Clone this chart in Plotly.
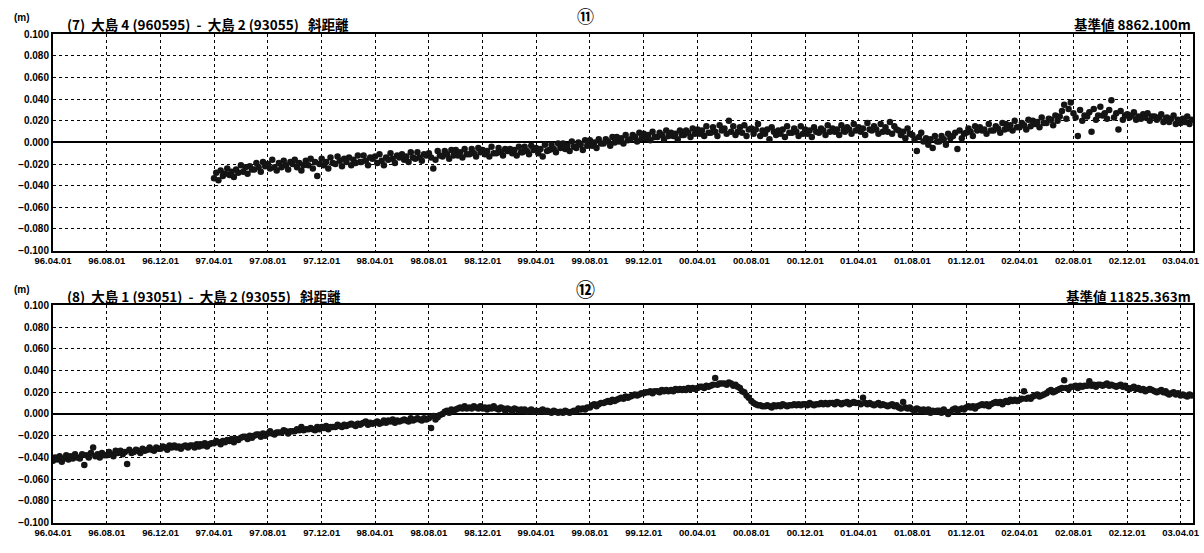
import pandas as pd
import plotly.graph_objects as go

# ---------------------------
# Data: slope distance change in mm
# six readings a month (1st, 6th, 11th, 16th, 21st, 26th), one row per month
# ---------------------------
oshima4_start = "1997-04-01"
oshima4_mm = [
    -33, -28, -35, -26, -31, -29,   # 97.04
    -24, -30, -27, -32, -25, -28,   # 97.05
    -21, -27, -23, -29, -22, -25,   # 97.06
    -25, -19, -23, -27, -18, -22,   # 97.07
    -20, -24, -16, -23, -26, -19,   # 97.08
    -23, -17, -21, -25, -18, -20,   # 97.09
    -16, -23, -19, -26, -21, -17,   # 97.10
    -21, -15, -24, -18, -31, -20,   # 97.11
    -15, -21, -18, -24, -14, -19,   # 97.12
    -20, -13, -17, -22, -15, -18,   # 98.01
    -14, -21, -16, -19, -12, -18,   # 98.02
    -18, -12, -17, -21, -14, -15,   # 98.03
    -13, -19, -11, -17, -21, -14,   # 98.04
    -16, -10, -15, -19, -12, -14,   # 98.05
    -11, -16, -13, -18, -9, -14,    # 98.06
    -15, -9, -14, -17, -11, -12,    # 98.07
    -10, -14, -24, -16, -8, -12,    # 98.08
    -13, -8, -11, -15, -7, -12,     # 98.09
    -7, -12, -9, -14, -6, -11,      # 98.10
    -11, -6, -10, -13, -5, -9,      # 98.11
    -7, -11, -8, -13, -4, -10,      # 98.12
    -10, -5, -9, -12, -6, -8,       # 99.01
    -6, -10, -7, -12, -4, -9,       # 99.02
    -9, -4, -8, -11, -3, -7,        # 99.03
    -5, -10, -6, -13, -2, -8,       # 99.04
    -7, -2, -6, -9, -1, -5,         # 99.05
    -1, -6, -3, -8, 1, -4,          # 99.06
    -5, 0, -2, -7, 2, -3,           # 99.07
    2, -3, 0, -5, 3, -1,            # 99.08
    -1, 3, 1, -3, 5, 0,             # 99.09
    5, 1, 4, -1, 7, 2,              # 99.10
    3, 7, 5, 1, 9, 4,               # 99.11
    8, 4, 7, 2, 10, 5,              # 99.12
    5, 9, 7, 3, 11, 6,              # 00.01
    9, 6, 8, 3, 11, 7,              # 00.02
    7, 11, 9, 5, 13, 8,             # 00.03
    12, 8, 11, 6, 15, 9,            # 00.04
    9, 14, 10, 6, 16, 11,           # 00.05
    13, 8, 20, 10, 15, 7,           # 00.06
    10, 14, 9, 16, 6, 12,           # 00.07
    13, 8, 12, 17, 6, 11,           # 00.08
    8, 12, 3, 14, 10, 7,            # 00.09
    11, 8, 12, 5, 15, 9,            # 00.10
    9, 13, 10, 6, 15, 8,            # 00.11
    12, 8, 11, 5, 14, 10,           # 00.12
    9, 13, 11, 7, 16, 10,           # 01.01
    13, 10, 12, 7, 16, 11,          # 01.02
    10, 14, 12, 8, 17, 11,          # 01.03
    14, 10, 13, 7, 18, 12,          # 01.04
    11, 15, 12, 8, 17, 10,          # 01.05
    14, 10, 19, 8, 15, 12,          # 01.06
    11, 7, 10, 4, 13, 8,            # 01.07
    7, 3, -8, 5, 9, 1,              # 01.08
    4, -2, 3, -5, 6, 1,             # 01.09
    1, 6, 3, -2, 8, 4,              # 01.10
    6, 9, -6, 11, 4, 8,             # 01.11
    9, 13, 10, 6, 15, 11,           # 01.12
    14, 11, 12, 8, 17, 11,          # 02.01
    11, 15, 13, 9, 18, 12,          # 02.02
    17, 13, 16, 11, 20, 14,         # 02.03
    14, 18, 16, 12, 21, 15,         # 02.04
    20, 17, 19, 14, 23, 18,         # 02.05
    18, 22, 21, 16, 25, 20,         # 02.06
    24, 29, 35, 22, 31, 37,         # 02.07
    27, 23, 6, 30, 20, 25,          # 02.08
    24, 28, 10, 31, 21, 25,         # 02.09
    33, 25, 27, 22, 30, 39,         # 02.10
    23, 27, 12, 29, 21, 25,         # 02.11
    26, 23, 25, 28, 21, 24,         # 02.12
    22, 26, 23, 27, 20, 24,         # 03.01
    24, 21, 23, 26, 19, 22,         # 03.02
    23, 19, 22, 25, 17, 21,         # 03.03
    18, 22, 19, 24, 17, 21,         # 03.04
]

oshima1_start = "1996-04-01"
oshima1_mm = [
    -43, -40, -42, -39, -44, -41,   # 96.04
    -38, -42, -39, -41, -37, -40,   # 96.05
    -41, -37, -47, -38, -40, -36,   # 96.06
    -31, -39, -37, -40, -36, -38,   # 96.07
    -38, -35, -37, -39, -34, -36,   # 96.08
    -34, -37, -35, -46, -33, -36,   # 96.09
    -35, -33, -34, -36, -32, -34,   # 96.10
    -33, -31, -33, -34, -31, -32,   # 96.11
    -32, -30, -31, -33, -29, -31,   # 96.12
    -29, -31, -30, -32, -30, -29,   # 97.01
    -31, -29, -29, -31, -28, -30,   # 97.02
    -28, -29, -27, -30, -28, -27,   # 97.03
    -27, -25, -26, -28, -25, -26,   # 97.04
    -24, -25, -23, -26, -23, -24,   # 97.05
    -22, -21, -21, -23, -20, -22,   # 97.06
    -20, -19, -19, -21, -18, -20,   # 97.07
    -18, -16, -18, -19, -17, -17,   # 97.08
    -17, -15, -16, -18, -16, -16,   # 97.09
    -16, -14, -15, -12, -15, -14,   # 97.10
    -14, -13, -14, -15, -12, -14,   # 97.11
    -12, -13, -11, -14, -12, -12,   # 97.12
    -12, -10, -11, -12, -10, -11,   # 98.01
    -10, -9, -10, -11, -9, -10,     # 98.02
    -9, -8, -7, -10, -8, -9,        # 98.03
    -8, -7, -9, -8, -6, -8,         # 98.04
    -6, -7, -5, -8, -6, -7,         # 98.05
    -6, -5, -6, -7, -4, -6,         # 98.06
    -5, -4, -5, -6, -4, -5,         # 98.07
    -4, -13, -2, -5, -3, -1,        # 98.08
    0, 2, 3, 1, 4, 3,               # 98.09
    4, 5, 6, 5, 7, 5,               # 98.10
    6, 5, 7, 6, 5, 7,               # 98.11
    5, 6, 4, 6, 5, 7,               # 98.12
    5, 4, 6, 5, 3, 5,               # 99.01
    4, 3, 5, 4, 3, 4,               # 99.02
    3, 4, 2, 3, 4, 2,               # 99.03
    3, 2, 3, 4, 2, 3,               # 99.04
    2, 1, 3, 2, 1, 2,               # 99.05
    1, 3, 2, 1, 2, 3,               # 99.06
    3, 5, 4, 5, 4, 6,               # 99.07
    6, 8, 9, 7, 9, 10,              # 99.08
    10, 11, 12, 11, 13, 12,         # 99.09
    13, 14, 15, 14, 16, 15,         # 99.10
    16, 17, 18, 17, 18, 19,         # 99.11
    19, 20, 20, 21, 19, 21,         # 99.12
    21, 20, 22, 21, 22, 21,         # 00.01
    22, 21, 23, 22, 23, 22,         # 00.02
    23, 22, 24, 23, 24, 23,         # 00.03
    24, 25, 25, 24, 26, 25,         # 00.04
    26, 27, 33, 27, 28, 28,         # 00.05
    28, 27, 29, 28, 26, 27,         # 00.06
    25, 24, 21, 20, 17, 15,         # 00.07
    12, 10, 9, 8, 8, 7,             # 00.08
    7, 8, 7, 6, 8, 7,               # 00.09
    8, 7, 9, 8, 7, 8,               # 00.10
    8, 9, 8, 9, 8, 9,               # 00.11
    9, 8, 10, 9, 8, 9,              # 00.12
    9, 10, 9, 10, 9, 10,            # 01.01
    10, 9, 11, 10, 9, 10,           # 01.02
    10, 11, 9, 10, 11, 10,          # 01.03
    10, 9, 15, 10, 9, 10,           # 01.04
    9, 8, 9, 10, 8, 9,              # 01.05
    8, 7, 8, 9, 7, 8,               # 01.06
    6, 5, 11, 6, 5, 6,              # 01.07
    4, 3, 5, 4, 3, 4,               # 01.08
    2, 4, 1, 3, 2, 3,               # 01.09
    3, 1, 4, 2, 0, 2,               # 01.10
    4, 5, 3, 4, 5, 4,               # 01.11
    6, 7, 6, 7, 5, 7,               # 01.12
    8, 9, 8, 9, 7, 9,               # 02.01
    10, 11, 10, 11, 9, 11,          # 02.02
    12, 11, 13, 12, 13, 12,         # 02.03
    13, 14, 21, 14, 15, 14,         # 02.04
    16, 17, 18, 16, 17, 18,         # 02.05
    19, 21, 22, 20, 21, 22,         # 02.06
    23, 24, 31, 24, 23, 25,         # 02.07
    25, 26, 24, 26, 25, 26,         # 02.08
    26, 30, 26, 27, 25, 27,         # 02.09
    27, 26, 27, 28, 26, 27,         # 02.10
    26, 25, 26, 27, 25, 26,         # 02.11
    24, 23, 24, 25, 23, 24,         # 02.12
    22, 23, 21, 22, 23, 22,         # 03.01
    21, 20, 21, 22, 20, 21,         # 03.02
    19, 18, 19, 20, 18, 19,         # 03.03
    17, 18, 17, 16, 18, 17,         # 03.04
]

tick_dates = pd.date_range("1996-04-01", "2003-04-01", freq="4MS")
tick_labels = [d.strftime("%y.%m.%d") for d in tick_dates]
y_ticks = [0.100, 0.080, 0.060, 0.040, 0.020, 0.000, -0.020, -0.040, -0.060, -0.080, -0.100]

READING_DAYS = (0, 5, 10, 15, 20, 25)


def reading_dates(start, n):
    per_month = len(READING_DAYS)
    months = pd.date_range(start, periods=(n + per_month - 1) // per_month, freq="MS")
    out = []
    for m in months:
        for day in READING_DAYS:
            out.append(m + pd.Timedelta(days=day))
    return out[:n]


# ---------------------------
# Page geometry (pixels of the 1204x553 page)
# ---------------------------
W, H = 1204, 553
LEFT, RIGHT = 53, 1193


def px(x):
    return (x - LEFT) / (RIGHT - LEFT)


def py(y):
    return 1 - y / H


fig = go.Figure()

fig.add_trace(go.Scatter(
    x=reading_dates(oshima4_start, len(oshima4_mm)),
    y=[v / 1000 for v in oshima4_mm],
    mode="markers",
    marker=dict(size=6.5, color="#141414"),
    xaxis="x", yaxis="y",
    showlegend=False,
))
fig.add_trace(go.Scatter(
    x=reading_dates(oshima1_start, len(oshima1_mm)),
    y=[v / 1000 for v in oshima1_mm],
    mode="markers",
    marker=dict(size=6.5, color="#141414"),
    xaxis="x2", yaxis="y2",
    showlegend=False,
))

tick_font = dict(family="Liberation Sans Narrow, Liberation Sans, Arial", size=10, color="black", weight="bold")

xaxis_common = dict(
    type="date",
    range=["1996-04-01", "2003-04-29"],
    tickvals=list(tick_dates),
    ticktext=tick_labels,
    tickfont=dict(tick_font, size=9.5),
    showgrid=True, gridcolor="black", griddash="dot", gridwidth=1,
    showline=True, linecolor="black", linewidth=2, mirror=True,
    ticks="", zeroline=False,
    domain=[0, 1],
)
yaxis_common = dict(
    range=[-0.1, 0.1],
    tickvals=y_ticks,
    tickformat=".3f",
    tickfont=tick_font,
    showgrid=True, gridcolor="black", griddash="dot", gridwidth=1,
    showline=True, linecolor="black", linewidth=2, mirror=True,
    ticks="",
    zeroline=True, zerolinecolor="black", zerolinewidth=1.5,
)

fig.update_layout(
    width=W, height=H,
    margin=dict(l=LEFT, r=W - RIGHT, t=0, b=0),
    paper_bgcolor="white", plot_bgcolor="white",
    xaxis=dict(xaxis_common, anchor="y"),
    yaxis=dict(yaxis_common, domain=[py(250), py(29)], anchor="x"),
    xaxis2=dict(xaxis_common, anchor="y2"),
    yaxis2=dict(yaxis_common, domain=[py(528), py(306)], anchor="x2"),
)

jp = "Noto Sans CJK JP"
labels = [
    # (text, x px, y px, anchor, size)
    ("(7)  大島 4 (960595)  -  大島 2 (93055)   斜距離", 65, 18, "left", 13.5),
    ("基準値 8862.100m", 1193, 18, "right", 13.5),
    ("(8)  大島 1 (93051)  -  大島 2 (93055)   斜距離", 65, 296, "left", 13.5),
    ("基準値 11825.363m", 1193, 296, "right", 13.5),
    ("⑪", 585, 10, "center", 17),
    ("⑫", 585, 289, "center", 19),
]
for text, x, y, anchor, size in labels:
    fig.add_annotation(
        text=text, x=px(x), y=py(y), xref="paper", yref="paper",
        xanchor=anchor, yanchor="middle", showarrow=False,
        font=dict(family=jp, size=size, color="black", weight="bold"),
    )

for y in (12, 290):
    fig.add_annotation(
        text="(m)", x=px(22), y=py(y), xref="paper", yref="paper",
        xanchor="center", yanchor="middle", showarrow=False,
        font=dict(tick_font, size=10),
    )

# the page's default body margin would push the figure off the window
fig.write_html(
    "out.html",
    config={"displayModeBar": False},
    post_script="document.body.style.margin='0';document.body.style.overflow='hidden';",
)
